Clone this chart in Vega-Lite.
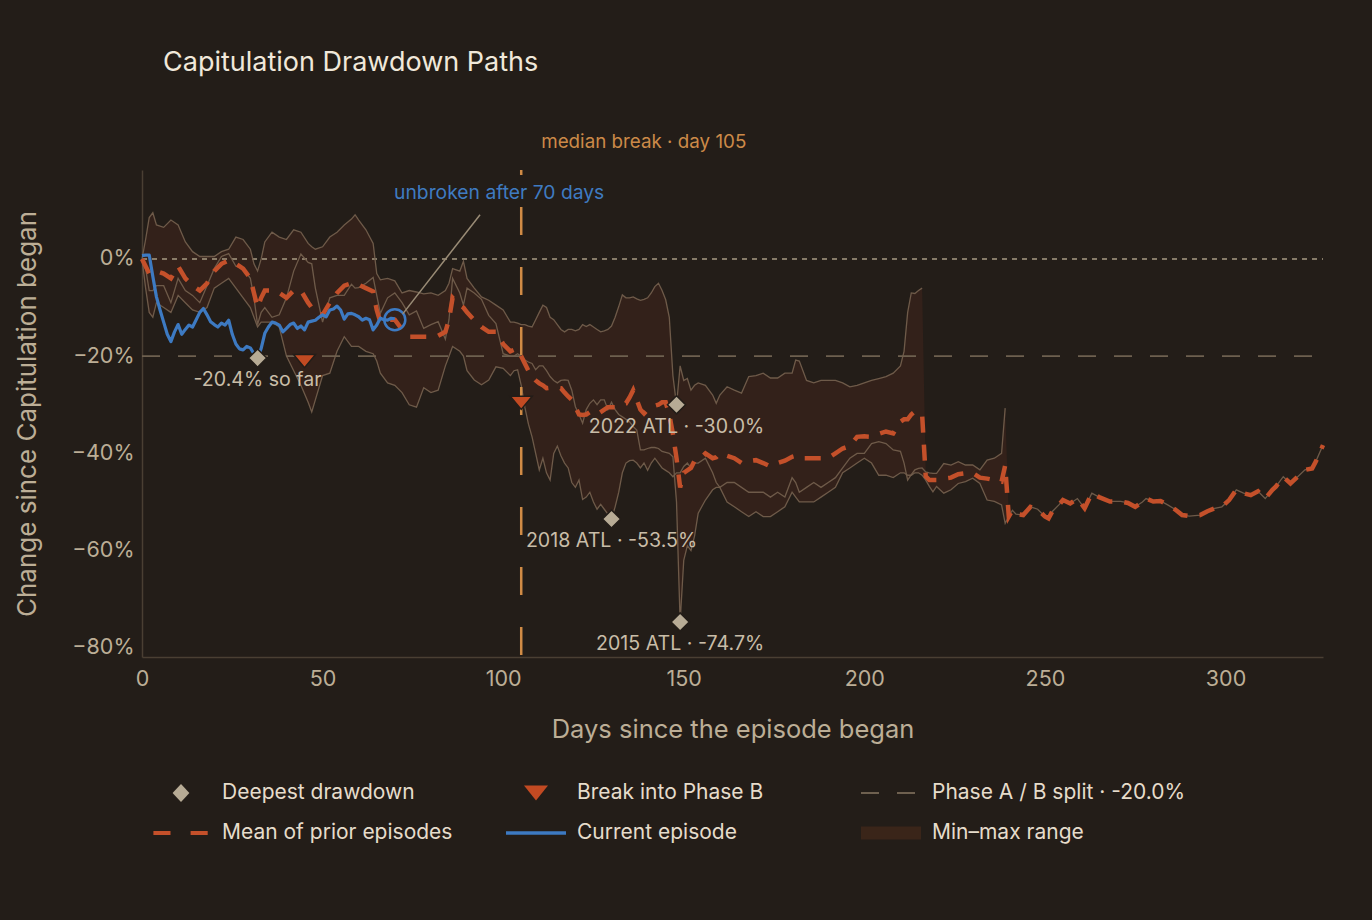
{
  "$schema": "https://vega.github.io/schema/vega-lite/v6.json",
  "width": 1181,
  "height": 487,
  "autosize": {"type": "none"},
  "padding": {"left": 142, "top": 170, "right": 49, "bottom": 263},
  "background": "#231d18",
  "title": {
    "text": "Capitulation Drawdown Paths",
    "anchor": "start",
    "frame": "group",
    "dx": 21,
    "offset": 56,
    "fontSize": 27,
    "fontWeight": "normal",
    "color": "#f0e8da",
    "font": "Inter"
  },
  "datasets": {
    "paths": [
      {"d": 0, "a": 0, "b": 0, "c": 0, "m": 0},
      {"d": 1, "a": 4, "b": -2, "c": -6, "m": -1.5},
      {"d": 2, "a": 8.5, "b": -6.5, "c": -11, "m": -3},
      {"d": 3, "a": 9.5, "b": -6.5, "c": -12, "m": -3},
      {"d": 4, "a": 7, "b": -5.5, "c": -9, "m": -2.5},
      {"d": 6, "a": 6.5, "b": -5.5, "c": -10, "m": -3},
      {"d": 8, "a": 8, "b": -9, "c": -11, "m": -4},
      {"d": 10, "a": 7, "b": -4, "c": -7.5, "m": -1.5},
      {"d": 12, "a": 3.5, "b": -6.5, "c": -9, "m": -4},
      {"d": 14, "a": 1.5, "b": -7.5, "c": -10.5, "m": -5.5},
      {"d": 16, "a": 0.5, "b": -9, "c": -11, "m": -6.5},
      {"d": 18, "a": 0.5, "b": -5.5, "c": -10, "m": -5},
      {"d": 20, "a": 0.5, "b": -2, "c": -6, "m": -2.5},
      {"d": 22, "a": 1.5, "b": 0.5, "c": -5, "m": -1},
      {"d": 24, "a": 2, "b": 1.1, "c": -4, "m": -0.3},
      {"d": 26, "a": 4.5, "b": -1.5, "c": -6, "m": -1},
      {"d": 28, "a": 4, "b": -2, "c": -8, "m": -2},
      {"d": 30, "a": 2, "b": -4, "c": -10, "m": -4},
      {"d": 31, "a": -1, "b": -8, "c": -12, "m": -7},
      {"d": 32, "a": -2.5, "b": -13.5, "c": -14, "m": -10},
      {"d": 33, "a": 0, "b": -11, "c": -13, "m": -8},
      {"d": 34, "a": 3.5, "b": -10, "c": -13, "m": -6.5},
      {"d": 36, "a": 5.5, "b": -12, "c": -13, "m": -6.5},
      {"d": 38, "a": 4.5, "b": -11.5, "c": -14, "m": -7},
      {"d": 40, "a": 4, "b": -8, "c": -20, "m": -8},
      {"d": 42, "a": 6, "b": -2.5, "c": -23, "m": -6.5},
      {"d": 44, "a": 5.5, "b": 1, "c": -26, "m": -6.5},
      {"d": 46, "a": 3.2, "b": -0.7, "c": -29.5, "m": -9},
      {"d": 47, "a": 2.5, "b": -1, "c": -31.5, "m": -10},
      {"d": 48, "a": 2, "b": -6, "c": -29, "m": -11},
      {"d": 50, "a": 2.5, "b": -13, "c": -24, "m": -11.5},
      {"d": 52, "a": 4.5, "b": -8, "c": -23.5, "m": -9},
      {"d": 54, "a": 5.5, "b": -7.5, "c": -19, "m": -7},
      {"d": 56, "a": 7, "b": -7.5, "c": -16, "m": -5.5},
      {"d": 58, "a": 8.2, "b": -5.2, "c": -18, "m": -5},
      {"d": 59, "a": 9.1, "b": -6, "c": -18, "m": -5},
      {"d": 60, "a": 8, "b": -5.9, "c": -18, "m": -5.3},
      {"d": 62, "a": 6, "b": -5, "c": -19, "m": -6},
      {"d": 64, "a": 3.2, "b": -3.8, "c": -19.5, "m": -6.7},
      {"d": 65, "a": -3, "b": -7.5, "c": -21, "m": -10.5},
      {"d": 66, "a": -4.3, "b": -11.2, "c": -23.5, "m": -13},
      {"d": 68, "a": -4, "b": -8, "c": -25.5, "m": -12.5},
      {"d": 70, "a": -4.5, "b": -7, "c": -26, "m": -12.5},
      {"d": 72, "a": -7, "b": -9, "c": -27.5, "m": -14.5},
      {"d": 74, "a": -6.5, "b": -11.5, "c": -30, "m": -16},
      {"d": 76, "a": -6.8, "b": -10.7, "c": -30.5, "m": -16},
      {"d": 78, "a": -7.2, "b": -14.3, "c": -26.5, "m": -16},
      {"d": 80, "a": -7, "b": -13.5, "c": -27.5, "m": -16},
      {"d": 82, "a": -7.5, "b": -12.9, "c": -27, "m": -15.8},
      {"d": 84, "a": -6.5, "b": -16.5, "c": -22, "m": -15},
      {"d": 85, "a": -5, "b": -12.5, "c": -20, "m": -12.5},
      {"d": 86, "a": -2, "b": -4, "c": -18, "m": -8},
      {"d": 88, "a": -2.5, "b": -7, "c": -19, "m": -9.5},
      {"d": 89, "a": -0.5, "b": -9.5, "c": -20, "m": -10},
      {"d": 90, "a": -4, "b": -6, "c": -23, "m": -11},
      {"d": 92, "a": -6, "b": -7, "c": -24.9, "m": -12.6},
      {"d": 94, "a": -7.8, "b": -8.3, "c": -25.9, "m": -14},
      {"d": 96, "a": -8.5, "b": -11.6, "c": -24.9, "m": -15},
      {"d": 98, "a": -9.5, "b": -13.3, "c": -22.2, "m": -15},
      {"d": 100, "a": -10.5, "b": -19.5, "c": -22.5, "m": -17.5},
      {"d": 102, "a": -13, "b": -20, "c": -24, "m": -19},
      {"d": 103, "a": -13, "b": -20, "c": -23, "m": -18.7},
      {"d": 104, "a": -13.2, "b": -19.5, "c": -22.8, "m": -18.5},
      {"d": 105, "a": -13.5, "b": -20, "c": -26, "m": -20},
      {"d": 106, "a": -13.5, "b": -20.8, "c": -30.5, "m": -21.5},
      {"d": 107, "a": -13.8, "b": -21.2, "c": -34, "m": -23},
      {"d": 108, "a": -14, "b": -21.5, "c": -36.6, "m": -24.2},
      {"d": 109, "a": -12.5, "b": -22.8, "c": -40, "m": -25},
      {"d": 110, "a": -11, "b": -22, "c": -43.4, "m": -25.6},
      {"d": 111, "a": -9.5, "b": -22, "c": -41, "m": -26},
      {"d": 112, "a": -10, "b": -23, "c": -44, "m": -26.6},
      {"d": 113, "a": -12, "b": -24.2, "c": -45.5, "m": -26.5},
      {"d": 114, "a": -12.5, "b": -25, "c": -40, "m": -26.5},
      {"d": 115, "a": -13.5, "b": -25.5, "c": -38.5, "m": -26.5},
      {"d": 116, "a": -14.5, "b": -25, "c": -40.5, "m": -26.6},
      {"d": 117, "a": -15, "b": -24.9, "c": -42, "m": -27.5},
      {"d": 118, "a": -14.5, "b": -25, "c": -43, "m": -28.3},
      {"d": 119, "a": -14.5, "b": -27, "c": -46, "m": -29},
      {"d": 120, "a": -14.8, "b": -30.4, "c": -47, "m": -30.5},
      {"d": 121, "a": -14.5, "b": -32, "c": -45.5, "m": -32},
      {"d": 122, "a": -13.5, "b": -33.8, "c": -49.5, "m": -32.1},
      {"d": 123, "a": -13.9, "b": -31, "c": -49, "m": -32},
      {"d": 124, "a": -13.5, "b": -29.7, "c": -48, "m": -31.5},
      {"d": 125, "a": -14, "b": -29, "c": -50, "m": -31.8},
      {"d": 126, "a": -14.5, "b": -30, "c": -51.5, "m": -32},
      {"d": 127, "a": -15, "b": -29, "c": -50.5, "m": -31.5},
      {"d": 128, "a": -14.8, "b": -29, "c": -51.5, "m": -31},
      {"d": 129, "a": -14.5, "b": -31, "c": -52.5, "m": -30.5},
      {"d": 130, "a": -13.8, "b": -29.5, "c": -53.5, "m": -30.5},
      {"d": 131, "a": -12, "b": -31, "c": -51, "m": -30.5},
      {"d": 132, "a": -9.8, "b": -32, "c": -48, "m": -30},
      {"d": 133, "a": -7.4, "b": -32.5, "c": -44, "m": -29.8},
      {"d": 134, "a": -8, "b": -33, "c": -42, "m": -29.7},
      {"d": 135, "a": -8, "b": -33.5, "c": -41.5, "m": -28.5},
      {"d": 136, "a": -7.8, "b": -34.5, "c": -41.4, "m": -27},
      {"d": 137, "a": -8.2, "b": -35.2, "c": -42, "m": -29},
      {"d": 138, "a": -8.5, "b": -39.3, "c": -43, "m": -31},
      {"d": 139, "a": -8.3, "b": -39.3, "c": -42, "m": -31.8},
      {"d": 140, "a": -8, "b": -39, "c": -43.5, "m": -31},
      {"d": 141, "a": -7, "b": -38.8, "c": -42, "m": -30.4},
      {"d": 142, "a": -5.7, "b": -38.8, "c": -41, "m": -30.2},
      {"d": 143, "a": -5, "b": -39, "c": -42, "m": -30},
      {"d": 144, "a": -6.5, "b": -39.6, "c": -43, "m": -29.5},
      {"d": 145, "a": -8.4, "b": -39.8, "c": -43.5, "m": -29.5},
      {"d": 146, "a": -12, "b": -40, "c": -44, "m": -32},
      {"d": 147, "a": -24, "b": -40.7, "c": -44.8, "m": -36},
      {"d": 148, "a": -30, "b": -50, "c": -44, "m": -41},
      {"d": 149, "a": -22, "b": -74.7, "c": -44, "m": -47},
      {"d": 150, "a": -25, "b": -62, "c": -42.7, "m": -44},
      {"d": 151, "a": -24.6, "b": -59, "c": -42, "m": -43.5},
      {"d": 152, "a": -27, "b": -60, "c": -43, "m": -43},
      {"d": 153, "a": -26, "b": -57, "c": -42, "m": -41.5},
      {"d": 154, "a": -25.5, "b": -52.3, "c": -42, "m": -41.4},
      {"d": 156, "a": -26, "b": -49.6, "c": -41, "m": -40},
      {"d": 158, "a": -28, "b": -47.5, "c": -44, "m": -41},
      {"d": 159, "a": -29.7, "b": -47, "c": -46, "m": -40.8},
      {"d": 160, "a": -28, "b": -47, "c": -47, "m": -40},
      {"d": 162, "a": -26.3, "b": -50, "c": -46, "m": -40.5},
      {"d": 164, "a": -27, "b": -51, "c": -46, "m": -41},
      {"d": 166, "a": -27.6, "b": -52, "c": -47, "m": -42},
      {"d": 168, "a": -24.2, "b": -53, "c": -48, "m": -41.6},
      {"d": 170, "a": -24, "b": -52, "c": -48, "m": -41.4},
      {"d": 172, "a": -23.5, "b": -53, "c": -48, "m": -42},
      {"d": 174, "a": -24.5, "b": -53, "c": -49, "m": -42.7},
      {"d": 176, "a": -24.5, "b": -52, "c": -48, "m": -42},
      {"d": 178, "a": -23.5, "b": -51, "c": -49, "m": -41.5},
      {"d": 180, "a": -23.5, "b": -48, "c": -45, "m": -40.7},
      {"d": 181, "a": -20.8, "b": -49, "c": -46, "m": -40.5},
      {"d": 182, "a": -21, "b": -50, "c": -48, "m": -41},
      {"d": 184, "a": -25, "b": -50, "c": -47, "m": -41},
      {"d": 186, "a": -25.5, "b": -50, "c": -46, "m": -41},
      {"d": 188, "a": -25, "b": -49, "c": -47, "m": -41},
      {"d": 190, "a": -25, "b": -48, "c": -46, "m": -41},
      {"d": 192, "a": -25, "b": -47, "c": -45, "m": -40},
      {"d": 194, "a": -25.5, "b": -44, "c": -43, "m": -39},
      {"d": 196, "a": -26.3, "b": -43, "c": -41, "m": -38.5},
      {"d": 198, "a": -26, "b": -42, "c": -40, "m": -36.6},
      {"d": 200, "a": -25.5, "b": -41, "c": -40, "m": -36.5},
      {"d": 202, "a": -25, "b": -42, "c": -38, "m": -36.6},
      {"d": 204, "a": -24.6, "b": -44.5, "c": -37.6, "m": -36},
      {"d": 206, "a": -24.2, "b": -44.5, "c": -38, "m": -35.5},
      {"d": 208, "a": -23.5, "b": -45, "c": -39.3, "m": -35.9},
      {"d": 210, "a": -22, "b": -44, "c": -39.6, "m": -33.5},
      {"d": 211, "a": -19, "b": -44, "c": -42, "m": -33},
      {"d": 212, "a": -11, "b": -44.5, "c": -45.5, "m": -33},
      {"d": 213, "a": -7, "b": -44.5, "c": -44.4, "m": -32},
      {"d": 214, "a": -7.1, "b": -44, "c": -43.4, "m": -31.4},
      {"d": 215, "a": -6.5, "b": -44, "c": -43.1, "m": -31.6},
      {"d": 216, "a": -6, "b": -44.5, "c": -43, "m": -32},
      {"d": 217, "b": -45.5, "c": -43.8, "m": -44.7},
      {"d": 218, "b": -46.8, "c": -44, "m": -45.5},
      {"d": 219, "b": -47.9, "c": -44.1, "m": -45.5},
      {"d": 220, "b": -46.8, "c": -44.1, "m": -45.5},
      {"d": 222, "b": -48.2, "c": -42.1, "m": -45.2},
      {"d": 224, "b": -47.5, "c": -42.4, "m": -45},
      {"d": 226, "b": -46.2, "c": -41.7, "m": -44.3},
      {"d": 228, "b": -45.8, "c": -42.4, "m": -44.1},
      {"d": 230, "b": -45.1, "c": -42.4, "m": -44},
      {"d": 232, "b": -46.2, "c": -43.4, "m": -45},
      {"d": 234, "b": -49.6, "c": -41.4, "m": -45.2},
      {"d": 236, "b": -49.9, "c": -41, "m": -45.5},
      {"d": 238, "b": -50.6, "c": -40, "m": -45.8},
      {"d": 239, "b": -54.4, "c": -30.7, "m": -42.5},
      {"d": 240, "b": -53, "m": -53},
      {"d": 241, "b": -51.7, "m": -51.7},
      {"d": 242, "b": -52.5, "m": -52.5},
      {"d": 244, "b": -52.7, "m": -52.7},
      {"d": 246, "b": -51, "m": -51},
      {"d": 248, "b": -51.5, "m": -51.5},
      {"d": 250, "b": -53, "m": -53},
      {"d": 251, "b": -53.4, "m": -53.4},
      {"d": 252, "b": -52, "m": -52},
      {"d": 254, "b": -50.5, "m": -50.5},
      {"d": 255, "b": -49.6, "m": -49.6},
      {"d": 257, "b": -50.3, "m": -50.3},
      {"d": 259, "b": -49.3, "m": -49.3},
      {"d": 261, "b": -51.3, "m": -51.3},
      {"d": 263, "b": -48.2, "m": -48.2},
      {"d": 265, "b": -49, "m": -49},
      {"d": 268, "b": -49.9, "m": -49.9},
      {"d": 271, "b": -49.9, "m": -49.9},
      {"d": 273, "b": -50.2, "m": -50.2},
      {"d": 275, "b": -51, "m": -51},
      {"d": 277, "b": -50, "m": -50},
      {"d": 278, "b": -49.3, "m": -49.3},
      {"d": 280, "b": -49.9, "m": -49.9},
      {"d": 282, "b": -49.8, "m": -49.8},
      {"d": 284, "b": -50.6, "m": -50.6},
      {"d": 286, "b": -51.5, "m": -51.5},
      {"d": 288, "b": -52.7, "m": -52.7},
      {"d": 290, "b": -52.9, "m": -52.9},
      {"d": 293, "b": -52.7, "m": -52.7},
      {"d": 295, "b": -51.9, "m": -51.9},
      {"d": 297, "b": -51.3, "m": -51.3},
      {"d": 299, "b": -51, "m": -51},
      {"d": 301, "b": -49.6, "m": -49.6},
      {"d": 303, "b": -47.5, "m": -47.5},
      {"d": 305, "b": -48.2, "m": -48.2},
      {"d": 307, "b": -48.6, "m": -48.6},
      {"d": 309, "b": -47.8, "m": -47.8},
      {"d": 311, "b": -49.3, "m": -49.3},
      {"d": 313, "b": -47.5, "m": -47.5},
      {"d": 314, "b": -46.8, "m": -46.8},
      {"d": 316, "b": -44.8, "m": -44.8},
      {"d": 318, "b": -46.2, "m": -46.2},
      {"d": 320, "b": -44.8, "m": -44.8},
      {"d": 322, "b": -43.4, "m": -43.4},
      {"d": 324, "b": -43.1, "m": -43.1},
      {"d": 325, "b": -41.7, "m": -41.7},
      {"d": 327, "b": -38.3, "m": -38.3}
    ],
    "current": [
      {"d": 0, "v": 0.7}, {"d": 1, "v": 0.8}, {"d": 2, "v": 0.8}, {"d": 3, "v": -3.6},
      {"d": 4, "v": -7.8}, {"d": 5, "v": -10.5}, {"d": 6, "v": -13}, {"d": 7, "v": -15.5},
      {"d": 8, "v": -17}, {"d": 9, "v": -15}, {"d": 10, "v": -13.5}, {"d": 11, "v": -15.5},
      {"d": 12, "v": -14.5}, {"d": 13, "v": -13.6}, {"d": 14, "v": -14}, {"d": 15, "v": -12.5},
      {"d": 16, "v": -11}, {"d": 17, "v": -10.2}, {"d": 18, "v": -11.5}, {"d": 19, "v": -12.9},
      {"d": 20, "v": -13.5}, {"d": 21, "v": -14}, {"d": 22, "v": -13.2}, {"d": 23, "v": -13.6},
      {"d": 24, "v": -12.6}, {"d": 25, "v": -15.5}, {"d": 26, "v": -17.5}, {"d": 27, "v": -18.5},
      {"d": 28, "v": -18.7}, {"d": 29, "v": -18}, {"d": 30, "v": -18.3}, {"d": 31, "v": -19.5},
      {"d": 32, "v": -20.4}, {"d": 33, "v": -18.4}, {"d": 34, "v": -15.3}, {"d": 35, "v": -14},
      {"d": 36, "v": -13}, {"d": 37, "v": -13.2}, {"d": 38, "v": -13.6}, {"d": 39, "v": -15},
      {"d": 40, "v": -14.3}, {"d": 41, "v": -13.5}, {"d": 42, "v": -13.2}, {"d": 43, "v": -14.3},
      {"d": 44, "v": -13.8}, {"d": 45, "v": -14.6}, {"d": 46, "v": -13}, {"d": 47, "v": -12.8},
      {"d": 48, "v": -12.6}, {"d": 49, "v": -12}, {"d": 50, "v": -11.5}, {"d": 51, "v": -11.9},
      {"d": 52, "v": -10.5}, {"d": 53, "v": -10.3}, {"d": 54, "v": -9.7}, {"d": 55, "v": -10.5},
      {"d": 56, "v": -12.4}, {"d": 57, "v": -11.3}, {"d": 58, "v": -11.2}, {"d": 59, "v": -11.5},
      {"d": 60, "v": -11.9}, {"d": 61, "v": -12.6}, {"d": 62, "v": -12.2}, {"d": 63, "v": -12.5},
      {"d": 64, "v": -14.6}, {"d": 65, "v": -13.6}, {"d": 66, "v": -12.2}, {"d": 67, "v": -12.5},
      {"d": 68, "v": -12.6}, {"d": 69, "v": -12.2}, {"d": 70, "v": -12.3}
    ],
    "drawdowns": [
      {"d": 32, "v": -20.4, "label": "-20.4% so far"},
      {"d": 130, "v": -53.5, "label": "2018 ATL · -53.5%"},
      {"d": 148, "v": -30.0, "label": "2022 ATL · -30.0%"},
      {"d": 149, "v": -74.7, "label": "2015 ATL · -74.7%"}
    ],
    "breaks": [
      {"d": 45, "v": -21},
      {"d": 105, "v": -29.6}
    ],
    "legendItems": [
      {"d": -50, "v": 0, "item": "Deepest drawdown"},
      {"d": -50, "v": 0, "item": "Break into Phase B"},
      {"d": -50, "v": 0, "item": "Phase A / B split · -20.0%"},
      {"d": -50, "v": 0, "item": "Mean of prior episodes"},
      {"d": -50, "v": 0, "item": "Current episode"},
      {"d": -50, "v": 0, "item": "Min–max range"}
    ],
    "refs": [
      {"ref": "zero", "v": 0},
      {"ref": "split", "v": -20}
    ]
  },
  "encoding": {
    "x": {
      "field": "d",
      "type": "quantitative",
      "scale": {"domain": [0, 327], "nice": false, "zero": false},
      "axis": {
        "values": [0, 50, 100, 150, 200, 250, 300],
        "title": "Days since the episode began",
        "labelPadding": 11,
        "labelFlush": false,
        "titlePadding": 28,
        "titleFontSize": 25.5
      }
    },
    "y": {
      "field": "v",
      "type": "quantitative",
      "scale": {"domain": [-81.9, 18.3], "nice": false, "zero": false},
      "axis": {
        "values": [-80, -60, -40, -20, 0],
        "labelExpr": "datum.label + '%'",
        "title": "Change since Capitulation began",
        "labelPadding": 8,
        "labelFlush": false,
        "titlePadding": 31,
        "titleFontSize": 26
      }
    }
  },
  "layer": [
    {
      "data": {"name": "paths"},
      "transform": [
        {"fold": ["a", "b", "c"], "as": ["k", "v"]},
        {"filter": "isValid(datum.v)"},
        {"aggregate": [{"op": "min", "field": "v", "as": "v"}, {"op": "max", "field": "v", "as": "v2"}], "groupby": ["d"]}
      ],
      "mark": {"type": "area", "color": "#33211a", "opacity": 1},
      "encoding": {"y2": {"field": "v2"}}
    },
    {
      "data": {"name": "refs"},
      "transform": [{"filter": "datum.ref == 'zero'"}],
      "mark": {"type": "rule", "color": "#a89a82", "strokeWidth": 1.5, "strokeDash": [5, 5]},
      "encoding": {"x": {"value": 0}, "x2": {"value": 1181}}
    },
    {
      "data": {"name": "refs"},
      "transform": [{"filter": "datum.ref == 'split'"}],
      "mark": {"type": "rule", "color": "#6e604f", "strokeWidth": 1.8, "strokeDash": [18, 18]},
      "encoding": {"x": {"value": 0}, "x2": {"value": 1181}}
    },
    {
      "data": {"name": "paths"},
      "transform": [{"fold": ["a", "b", "c"], "as": ["k", "v"]}],
      "mark": {"type": "line", "color": "#725e4c", "strokeWidth": 1.3, "opacity": 0.95},
      "encoding": {"detail": {"field": "k"}}
    },
    {
      "data": {"values": [{"d": 105}]},
      "mark": {"type": "rule", "color": "#d08b45", "strokeWidth": 2.5, "strokeDash": [28, 32], "strokeDashOffset": 23},
      "encoding": {"y": {"value": 0}, "y2": {"value": 487}}
    },
    {
      "data": {"name": "paths"},
      "transform": [{"fold": ["m"], "as": ["k", "v"]}],
      "mark": {"type": "line", "color": "#c4502a", "strokeWidth": 4.5, "strokeDash": [16, 12]},
      "encoding": {}
    },
    {
      "data": {"name": "current"},
      "mark": {"type": "line", "color": "#3d7ac2", "strokeWidth": 3.2, "strokeJoin": "round"},
      "encoding": {}
    },
    {
      "data": {"values": [{"d": 70, "v": -12.5}]},
      "mark": {"type": "point", "shape": "circle", "size": 441, "filled": false, "color": "#3d7ac2", "strokeWidth": 2.5, "opacity": 1},
      "encoding": {}
    },
    {
      "data": {"values": [{"d": 72.2, "v": -11.3, "d2": 93.6, "v2": 9.1}]},
      "mark": {"type": "rule", "color": "#9a8c76", "strokeWidth": 1.5},
      "encoding": {"x2": {"field": "d2"}, "y2": {"field": "v2"}}
    },
    {
      "data": {"values": [{"d": 98.9, "v": 13.6, "t": "unbroken after 70 days"}]},
      "mark": {"type": "text", "color": "#3f7bc1", "fontSize": 19.3, "align": "center", "baseline": "middle", "font": "Inter"},
      "encoding": {"text": {"field": "t"}}
    },
    {
      "data": {"values": [{"d": 105, "v": 24.1, "t": "median break · day 105"}]},
      "mark": {"type": "text", "color": "#cc8a48", "fontSize": 18.8, "align": "left", "baseline": "middle", "dx": 20, "font": "Inter"},
      "encoding": {"text": {"field": "t"}}
    },
    {
      "data": {"name": "drawdowns"},
      "mark": {"type": "point", "shape": "diamond", "size": 330, "filled": true, "fill": "#b7ab95", "stroke": "#231d18", "strokeWidth": 1.5, "opacity": 1},
      "encoding": {}
    },
    {
      "data": {"name": "drawdowns"},
      "mark": {"type": "text", "color": "#c9bda8", "fontSize": 19.6, "align": "center", "baseline": "middle", "dy": 22, "font": "Inter"},
      "encoding": {"text": {"field": "label"}}
    },
    {
      "data": {"name": "breaks"},
      "mark": {"type": "point", "shape": "M-1,-0.6L1,-0.6L0,0.6Z", "size": 484, "filled": true, "fill": "#c24a22", "stroke": "#231d18", "strokeWidth": 1.5, "opacity": 1},
      "encoding": {}
    },
    {
      "data": {"name": "legendItems"},
      "mark": {"type": "point", "filled": true, "opacity": 1, "clip": true},
      "encoding": {
        "color": {
          "field": "item",
          "type": "nominal",
          "scale": {
            "domain": ["Deepest drawdown", "Break into Phase B", "Phase A / B split · -20.0%", "Mean of prior episodes", "Current episode", "Min–max range"],
            "range": ["#b7ab95", "#c24a22", "#6e604f", "#c4502a", "#3d7ac2", "#3a2519"]
          },
          "legend": {
            "title": null,
            "orient": "none",
            "legendX": 9,
            "legendY": 593,
            "columns": 3,
            "direction": "horizontal",
            "gridAlign": "all",
            "columnPadding": 30,
            "rowPadding": 0,
            "symbolSize": 3600,
            "symbolStrokeWidth": 0,
            "symbolOpacity": 1,
            "labelFontSize": 21,
            "labelColor": "#e6dccb",
            "labelFont": "Inter",
            "labelOffset": 11,
            "labelLimit": 400
          }
        },
        "shape": {
          "field": "item",
          "type": "nominal",
          "scale": {
            "domain": ["Deepest drawdown", "Break into Phase B", "Phase A / B split · -20.0%", "Mean of prior episodes", "Current episode", "Min–max range"],
            "range": [
              "M0,-0.3L0.28,0L0,0.3L-0.28,0Z",
              "M-0.4,-0.25L0.4,-0.25L0,0.25Z",
              "M-1,-0.035H-0.4V0.035H-1Z M0.2,-0.035H0.8V0.035H0.2Z",
              "M-0.92,-0.07H-0.35V0.07H-0.92Z M0.32,-0.07H0.89V0.07H0.32Z",
              "M-1,-0.06H1V0.06H-1Z",
              "M-1,-0.22H1V0.22H-1Z"
            ]
          }
        }
      }
    }
  ],
  "config": {
    "view": {"stroke": null},
    "font": "Inter",
    "axis": {
      "domainColor": "#4a3f33",
      "domainWidth": 1.5,
      "ticks": false,
      "grid": false,
      "labelColor": "#bcae96",
      "labelFontSize": 21.5,
      "labelFont": "Inter",
      "titleColor": "#bcae96",
      "titleFontSize": 24,
      "titleFont": "Inter",
      "titleFontWeight": "normal"
    }
  }
}
